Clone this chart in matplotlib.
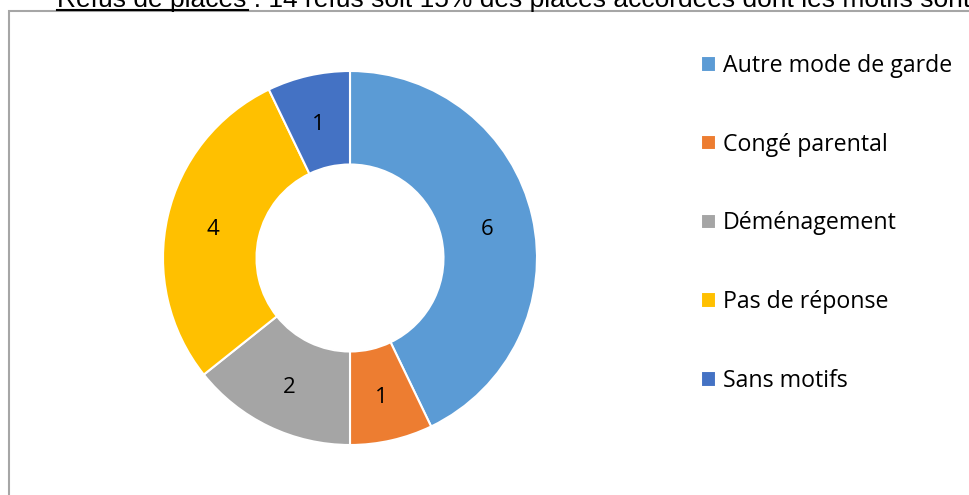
import matplotlib.pyplot as plt
from matplotlib.patches import Rectangle
import numpy as np

# Refus de places, par motif
motifs = ['Autre mode de garde', 'Congé parental', 'Déménagement',
          'Pas de réponse', 'Sans motifs']
refus = [6, 1, 2, 4, 1]
couleurs = ['#5B9BD5', '#ED7D31', '#A5A5A5', '#FFC000', '#4472C4']

W, H = 970, 495
fig = plt.figure(figsize=(W / 100, H / 100), dpi=100)

# chart border (partly cut off at right and bottom)
fig.patches.append(Rectangle((9 / W, -0.1), 1.1, (H - 11) / H + 0.1,
                             transform=fig.transFigure, fill=False,
                             edgecolor='#A6A6A6', linewidth=1.5))

# title line, cut off at the top of the picture
fig.text(57 / W, (H - 7) / H,
         'Refus de places : 14 refus soit 15% des places accordées dont les motifs sont',
         fontsize=19, family='Liberation Sans', va='baseline')
fig.lines.append(plt.Line2D([57 / W, 248 / W], [(H - 9.5) / H, (H - 9.5) / H],
                            transform=fig.transFigure, color='black', lw=1.5))

cx, cy, r = 350, 258, 187
ax = fig.add_axes([(cx - r) / W, (H - cy - r) / H, 2 * r / W, 2 * r / H])
wedges, _ = ax.pie(refus, colors=couleurs, startangle=90, counterclock=False,
                   radius=1, wedgeprops=dict(width=0.5, edgecolor='white', linewidth=1.5))
ax.set_xlim(-1, 1)
ax.set_ylim(-1, 1)
ax.set_aspect('equal')
ax.axis('off')

total = sum(refus)
angle = 90.0
for v in refus:
    mid = np.deg2rad(angle - 360 * v / total / 2)
    ax.text(0.75 * np.cos(mid), 0.75 * np.sin(mid) - 0.015, str(v), ha='center', va='center',
            fontsize=16, family='Open Sans', color='#000000')
    angle -= 360 * v / total

fig.legend(wedges, motifs, loc='upper left', bbox_to_anchor=(701 / W, (H - 54) / H),
           frameon=False, prop={'family': 'Open Sans', 'size': 16.7},
           handlelength=0.65, handleheight=0.65, handletextpad=0.28,
           labelspacing=2.36, borderpad=0, borderaxespad=0)

fig.savefig('out.png', dpi=100)
